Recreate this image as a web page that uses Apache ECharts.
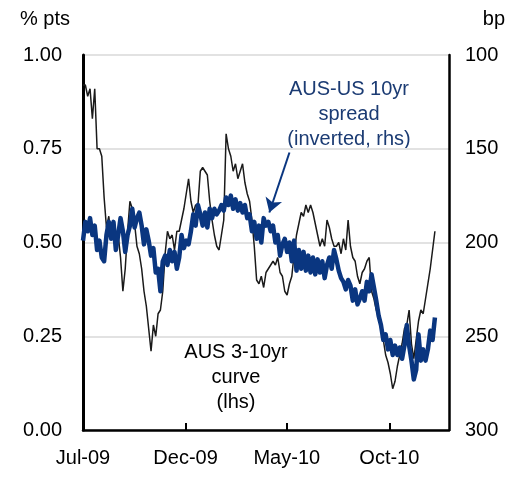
<!DOCTYPE html>
<html>
<head>
<meta charset="utf-8">
<script src="https://cdn.jsdelivr.net/npm/echarts@6/dist/echarts.min.js"></script>
<style>html,body{margin:0;padding:0;background:#fff}#c{width:522px;height:478px}</style>
</head>
<body>
<div id="c"></div>
<script>
// Observations every 3.5 days starting 1 Jul 2009 (x = days since 1 Jul 2009)
const startYear = 2009, startMonth = 6, startDay = 1, stepDays = 3.5;

// AUS 3-10yr curve (% pts, lhs)
const curve = [
  0.92,0.92,0.89,0.91,0.83,0.91,0.75,0.75,0.73,0.62,
  0.54,0.57,0.51,0.56,0.49,0.52,0.46,0.37,0.43,0.53,
  0.61,0.59,0.55,0.49,0.47,0.43,0.37,0.33,0.27,0.21,
  0.28,0.25,0.31,0.32,0.37,0.47,0.53,0.51,0.52,0.48,
  0.53,0.53,0.56,0.59,0.63,0.67,0.61,0.58,0.60,0.60,
  0.69,0.70,0.69,0.68,0.61,0.56,0.52,0.49,0.48,0.52,
  0.56,0.79,0.75,0.73,0.69,0.71,0.67,0.69,0.71,0.66,
  0.63,0.61,0.56,0.49,0.40,0.39,0.41,0.38,0.42,0.43,
  0.44,0.45,0.44,0.46,0.42,0.41,0.37,0.36,0.39,0.41,
  0.47,0.52,0.55,0.58,0.57,0.60,0.58,0.60,0.58,0.55,
  0.52,0.49,0.51,0.49,0.56,0.54,0.51,0.49,0.49,0.50,
  0.47,0.51,0.48,0.56,0.49,0.46,0.45,0.41,0.39,0.42,
  0.43,0.45,0.46,0.37,0.35,0.32,0.30,0.27,0.24,0.20,
  0.18,0.15,0.11,0.13,0.17,0.20,0.23,0.27,0.28,0.32,
  0.23,0.19,0.24,0.29,0.32,0.31,0.35,0.39,0.43,0.48,
  0.53
];

// AUS-US 10yr spread (bp, inverted rhs)
const spread = [
  199,189,194,187,196,191,204,199,208,210,
  196,189,198,189,204,196,187,194,205,196,
  191,182,192,187,184,191,201,193,199,207,
  203,216,214,226,210,207,212,204,210,205,
  214,208,196,203,199,201,194,185,191,180,
  185,191,184,192,182,187,182,185,183,180,
  183,176,180,175,182,177,183,179,184,180,
  187,185,194,189,198,191,200,187,191,189,
  194,191,200,196,207,201,198,205,200,210,
  199,215,204,214,205,215,207,216,208,217,
  209,216,210,219,212,208,214,204,209,215,
  219,221,225,220,223,231,225,233,230,226,
  231,221,226,217,224,231,239,244,252,249,
  257,252,260,255,260,256,262,255,244,255,
  263,273,268,249,263,257,263,257,247,252,
  240
];

// x tick positions (days since 1 Jul 2009): Jul-09, Dec-09, May-10, Oct-10
const tickDays = [0, 153, 304, 457];
const xRange = [0, 546];
const monthNames = ['Jan','Feb','Mar','Apr','May','Jun','Jul','Aug','Sep','Oct','Nov','Dec'];
const leftTicks = [0, 1, 0.25];
const rightTicks = [100, 300, 50];

const days = curve.map((_, i) => i * stepDays);
const dayLabel = v => { const d = new Date(startYear, startMonth, startDay + Math.round(v)); return monthNames[d.getMonth()] + '-' + String(d.getFullYear() % 100).padStart(2, '0'); };

const NAVY = '#0a3680';
const TXTNAVY = '#1b3b73';
const FONT = 'Liberation Sans, Arial, sans-serif';

const chart = echarts.init(document.getElementById('c'), null, {renderer: 'canvas'});
chart.setOption({
  animation: false,
  backgroundColor: '#fff',
  grid: {left: 83, right: 73, top: 55, bottom: 48, containLabel: false},
  xAxis: {
    type: 'value',
    min: xRange[0], max: xRange[1],
    axisLine: {show: true, onZero: false, lineStyle: {color: '#000', width: 2.5}},
    axisTick: {show: true, inside: true, length: 7, customValues: tickDays, lineStyle: {color: '#000', width: 2}},
    axisLabel: {customValues: tickDays, margin: 18, color: '#000', fontSize: 20, fontFamily: FONT, formatter: dayLabel},
    splitLine: {show: false}
  },
  yAxis: [
    {
      type: 'value', min: leftTicks[0], max: leftTicks[1], interval: leftTicks[2],
      position: 'left',
      axisLine: {show: true, lineStyle: {color: '#000', width: 3}},
      axisTick: {show: false},
      axisLabel: {margin: 21, color: '#000', fontSize: 20, fontFamily: FONT, formatter: v => v.toFixed(2)},
      splitLine: {show: true, lineStyle: {color: '#e2e2e2', width: 2}}
    },
    {
      type: 'value', min: rightTicks[0], max: rightTicks[1], interval: rightTicks[2],
      inverse: true, position: 'right',
      axisLine: {show: true, lineStyle: {color: '#000', width: 2.5}},
      axisTick: {show: false},
      axisLabel: {margin: 16, color: '#000', fontSize: 20, fontFamily: FONT},
      splitLine: {show: false}
    }
  ],
  series: [
    {
      name: 'AUS 3-10yr curve', type: 'line', yAxisIndex: 0, showSymbol: false,
      data: days.map((d, i) => [d, curve[i]]),
      lineStyle: {color: '#1a1a1a', width: 1.5}, z: 2
    },
    {
      name: 'AUS-US 10yr spread', type: 'line', yAxisIndex: 1, showSymbol: false,
      data: days.map((d, i) => [d, spread[i]]),
      lineStyle: {color: NAVY, width: 4.5, join: 'round'}, z: 3,
      markLine: {
        silent: true, animation: false,
        symbol: ['none', 'arrow'], symbolSize: [13, 14],
        label: {show: false},
        lineStyle: {color: NAVY, width: 2, type: 'solid'},
        data: [[
          {coord: [308, 152]},
          {coord: [278, 184]}
        ]]
      }
    }
  ],
  graphic: [
    {type: 'text', left: 20, top: 9, style: {text: '% pts', fontSize: 20, fontFamily: FONT, fill: '#000'}},
    {type: 'text', right: 17, top: 9, style: {text: 'bp', fontSize: 20, fontFamily: FONT, fill: '#000'}},
    {type: 'text', x: 349, y: 77, style: {text: 'AUS-US 10yr\nspread\n(inverted, rhs)', align: 'center', lineHeight: 25, fontSize: 20, fontFamily: FONT, fill: TXTNAVY}},
    {type: 'text', x: 236, y: 340, style: {text: 'AUS 3-10yr\ncurve\n(lhs)', align: 'center', lineHeight: 25, fontSize: 20, fontFamily: FONT, fill: '#000'}}
  ]
});
</script>
</body>
</html>
